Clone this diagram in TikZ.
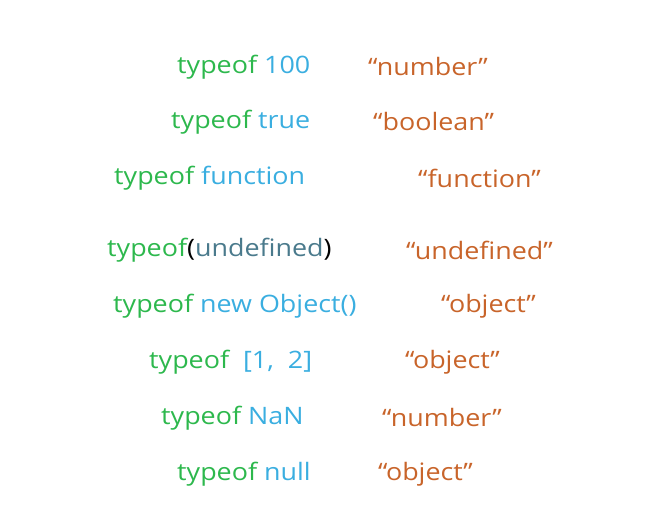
\documentclass[tikz,border=0pt]{standalone}
\usepackage{fontspec}
\setmainfont{Open Sans}
\definecolor{kw}{HTML}{2DB84D}
\definecolor{val}{HTML}{3AAEE0}
\definecolor{res}{HTML}{C8642A}
\definecolor{und}{HTML}{4A7A8C}
\begin{document}
\begin{tikzpicture}[x=1pt,y=1pt,
  txt/.style={anchor=west,inner sep=0pt,xscale=1.12,font=\fontsize{24}{28}\selectfont},
  restxt/.style={txt,text=res}]
\useasboundingbox (0,0) rectangle (645,532);
\node[txt] (l1) at (177,465) {\color{kw}typeof \color{val}100};
\node[txt] (l2) at (171,410) {\color{kw}typeof \color{val}true};
\node[txt] (l3) at (114,354) {\color{kw}typeof \color{val}function};
\node[txt] (l4) at (107,282) {\color{kw}typeof\color{black}(\color{und}undefined\color{black})};
\node[txt] (l5) at (113,226) {\color{kw}typeof \color{val}new Object()};
\node[txt] (l6) at (149,170) {\color{kw}typeof\ \ \color{val}[1,\ \ 2]};
\node[txt] (l7) at (161,114) {\color{kw}typeof \color{val}NaN};
\node[txt] (l8) at (177,58) {\color{kw}typeof \color{val}null};
\node[restxt] (r1) at (368,465) {“number”};
\node[restxt] (r2) at (373,410) {“boolean”};
\node[restxt] (r3) at (418,354) {“function”};
\node[restxt] (r4) at (406,282) {“undefined”};
\node[restxt] (r5) at (441,226) {“object”};
\node[restxt] (r6) at (405,170) {“object”};
\node[restxt] (r7) at (382,114) {“number”};
\node[restxt] (r8) at (378,58) {“object”};
\end{tikzpicture}
\end{document}
